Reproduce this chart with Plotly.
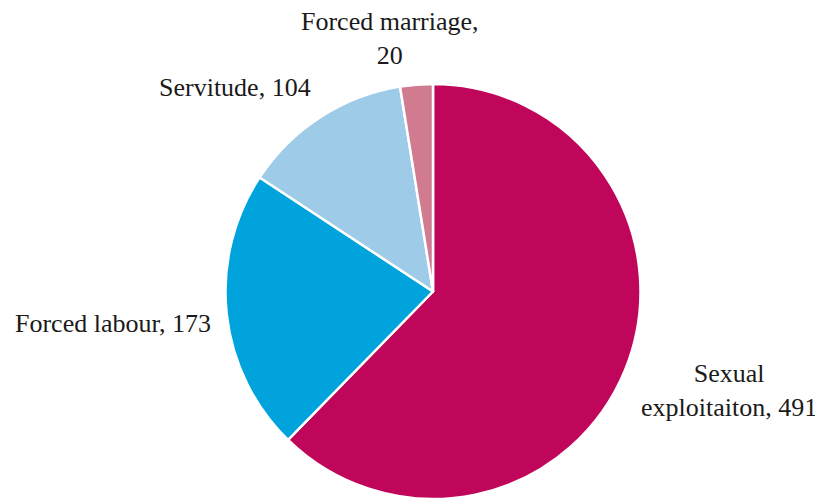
import plotly.graph_objects as go

categories = ["Sexual exploitaiton", "Forced labour", "Servitude", "Forced marriage"]
values = [491, 173, 104, 20]
colors = ["#C0065A", "#00A3DC", "#9DCBE8", "#D07B90"]
label_texts = ["Sexual<br>exploitaiton, 491", "Forced labour, 173", "Servitude, 104", "Forced marriage,<br>20"]

OFF = 8  # default page body margin
W, H = 823 - OFF, 499 - OFF
mt, mb, ml, mr = 84 - OFF, 0, 0, 0
cx, r = 433 - OFF, (H - mt - mb) / 2
label_px = [(729, 390), (113, 323), (235, 88), (390, 39)]

fig = go.Figure(go.Pie(
    labels=categories, values=values, sort=False, direction="clockwise", rotation=0,
    marker=dict(colors=colors, line=dict(color="white", width=2.5)),
    textinfo="none", hoverinfo="label+value", showlegend=False,
    domain=dict(x=[(cx - r) / W, (cx + r) / W], y=[0, 1]),
))

ph = H - mt - mb
for t, (x, y) in zip(label_texts, label_px):
    fig.add_annotation(text=t, x=(x - OFF) / W, y=(H - mb - (y - OFF)) / ph, xref="paper", yref="paper",
                       showarrow=False, xanchor="center", yanchor="middle", align="center",
                       font=dict(family="Liberation Serif", size=26, color="#1a1a1a"))

fig.update_layout(width=W, height=H, margin=dict(t=mt, b=mb, l=ml, r=mr),
                  paper_bgcolor="white", plot_bgcolor="white")
fig.write_html("out.html")
